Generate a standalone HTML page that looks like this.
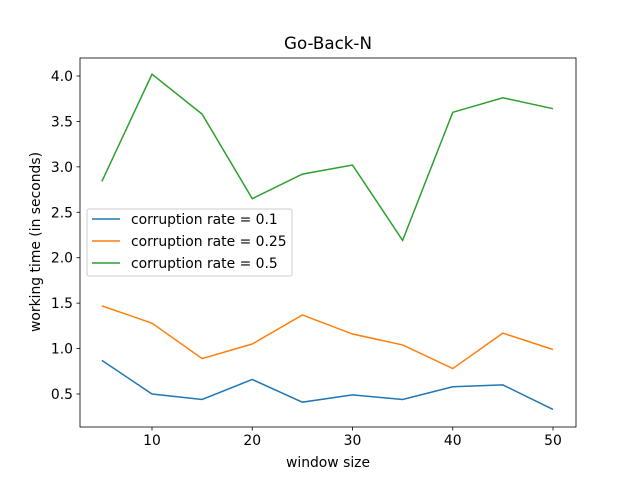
<!DOCTYPE html>
<html><head><meta charset="utf-8"><style>body{margin:0;background:#fff}svg{font-family:"DejaVu Sans","Liberation Sans",sans-serif}</style></head>
<body>
<svg id="c" width="640" height="480"></svg>
<script>
const windowSizes=[5,10,15,20,25,30,35,40,45,50];
const rate01=[0.87,0.50,0.44,0.66,0.41,0.49,0.44,0.58,0.60,0.33];
const rate025=[1.47,1.28,0.89,1.05,1.37,1.16,1.04,0.78,1.17,0.99];
const rate05=[2.84,4.02,3.58,2.65,2.92,3.02,2.19,3.60,3.76,3.64];
const xTicks=[10,20,30,40,50];
const yTicks=[0.5,1.0,1.5,2.0,2.5,3.0,3.5,4.0];
const seriesNames=["corruption rate = 0.1","corruption rate = 0.25","corruption rate = 0.5"];
const colors=["#1f77b4","#ff7f0e","#2ca02c"];
const L=80,R=576,T=58,B=427;
const X=v=>152+(v-10)*10.025;
const Y=v=>394-(v-0.5)*90.86;
const svg=document.getElementById('c');
const NS="http://www.w3.org/2000/svg";
function mk(t,a,p){const e=document.createElementNS(NS,t);for(const k in a)e.setAttribute(k,a[k]);(p||svg).appendChild(e);return e;}
let e;
e=mk('text',{x:328,y:49,'text-anchor':'middle','font-size':16.7});e.textContent="Go-Back-N";


[[rate01,0],[rate025,1],[rate05,2]].forEach(([d,i])=>{
 e=mk('polyline',{points:d.map((v,j)=>X(windowSizes[j])+','+Y(v)).join(' '),fill:'none',stroke:colors[i],'stroke-width':1.5});
 
 
});
e=mk('rect',{x:L,y:T,width:R-L,height:B-T,fill:'none',stroke:'#000','stroke-width':0.8});


xTicks.forEach(v=>{mk('line',{x1:X(v),x2:X(v),y1:B,y2:B+3.5,stroke:'#000','stroke-width':0.8});
 e=mk('text',{x:X(v),y:B+18,'text-anchor':'middle','font-size':13.9});e.textContent=v;
 
 });
yTicks.forEach(v=>{mk('line',{x1:L-3.5,x2:L,y1:Y(v),y2:Y(v),stroke:'#000','stroke-width':0.8});
 e=mk('text',{x:L-7,y:Y(v)+5,'text-anchor':'end','font-size':13.9});e.textContent=v.toFixed(1);
 
 });
e=mk('text',{x:328,y:467,'text-anchor':'middle','font-size':13.9});e.textContent="window size";


e=mk('text',{x:40,y:242,'text-anchor':'middle','font-size':13.9,transform:'rotate(-90 40 242)'});e.textContent="working time (in seconds)";


const g=mk('g',{});


mk('rect',{x:87,y:209,width:205,height:67,rx:2,fill:'#fff','fill-opacity':0.8,stroke:'#ccc'},g);
seriesNames.forEach((n,i)=>{const y=219+i*22;
 mk('line',{x1:92,x2:120,y1:y,y2:y,stroke:colors[i],'stroke-width':1.5},g);
 e=mk('text',{x:131,y:y+5,'font-size':13.9},g);e.textContent=n;
 
 });
</script>
</body></html>
